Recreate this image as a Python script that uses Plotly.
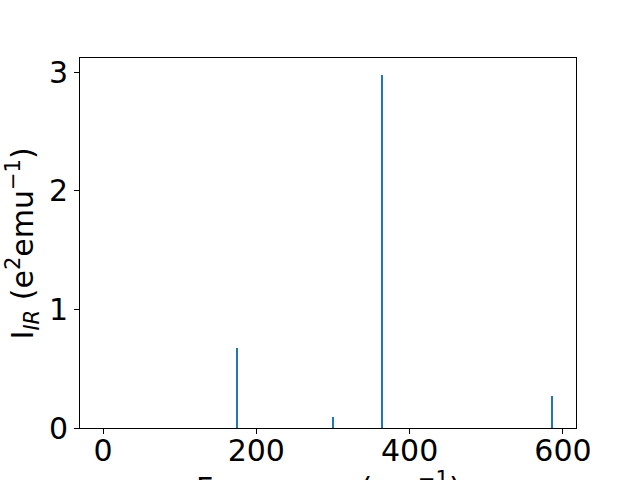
import plotly.graph_objects as go

freqs = [174.8, 300.5, 364.0, 585.8]
intensity = [0.676, 0.095, 2.975, 0.273]
widths = [1.0, 1.0, 2.5, 1.0]
xticks = [0, 200, 400, 600]
yticks = [0, 1, 2, 3]

fig = go.Figure()
fig.add_trace(go.Bar(x=freqs, y=intensity, width=widths,
                     marker=dict(color="#1f77b4", line=dict(width=0))))

font = dict(family="DejaVu Sans", size=30, color="black")
axis_common = dict(showline=True, linecolor="black", linewidth=1, mirror=True,
                   ticks="outside", ticklen=5, tickwidth=1, tickcolor="black",
                   showgrid=False, zeroline=False, tickfont=font, automargin=False)
fig.update_layout(
    width=640, height=480,
    margin=dict(l=80, r=64, t=58, b=52),
    plot_bgcolor="white", paper_bgcolor="white",
    showlegend=False, bargap=0,
    xaxis=dict(range=[-30, 617], tickvals=xticks, ticklabelstandoff=-9, **axis_common),
    yaxis=dict(range=[0, 3.12], tickvals=yticks, **axis_common),
    annotations=[
        dict(text="Frequency (cm<sup>−1</sup>)", xref="paper", yref="paper",
             x=0.5, y=-0.1, xanchor="center", yanchor="top", showarrow=False, font=font),
        dict(text="I<sub><i>IR</i></sub> (e<sup>2</sup>emu<sup>−1</sup>)", xref="paper", yref="paper",
             x=-0.116, y=0.5, xanchor="center", yanchor="middle", textangle=-90,
             showarrow=False, font=font),
    ],
)
fig.write_html("out.html", config={"displayModeBar": False},
               post_script="document.body.style.margin='0';document.body.style.overflow='hidden';")
